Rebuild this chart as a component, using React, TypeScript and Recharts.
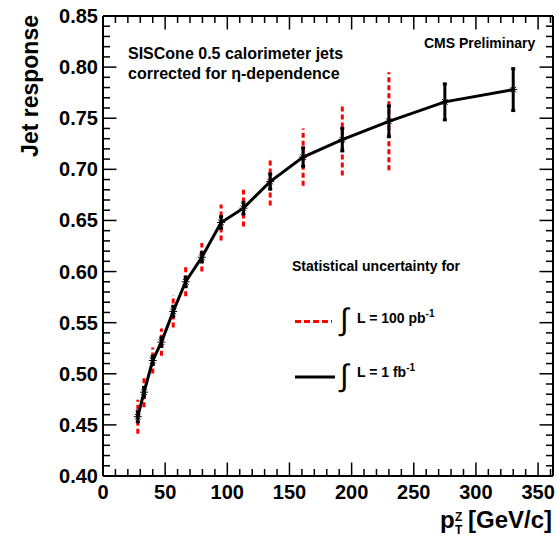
import React from 'react';
import { ComposedChart, Line, XAxis, YAxis, ErrorBar } from 'recharts';

// pT^Z bin centres [GeV/c]
const ptZ = [28, 33, 40, 47, 56.5, 66.5, 79.5, 95, 113, 134.5, 161, 192.5, 230, 275, 330];
// jet response
const response = [0.458, 0.482, 0.513, 0.531, 0.561, 0.59, 0.614, 0.648, 0.662, 0.688, 0.712, 0.729, 0.747, 0.766, 0.778];
// statistical uncertainty for 1 fb^-1
const err1fb = [0.005, 0.0047, 0.004, 0.0042, 0.005, 0.0045, 0.0045, 0.0056, 0.0057, 0.0074, 0.009, 0.011, 0.015, 0.0176, 0.0205];
// statistical uncertainty for 100 pb^-1 (shown for first 13 bins)
const err100pb = [0.0166, 0.0147, 0.0127, 0.0134, 0.0157, 0.0142, 0.014, 0.0176, 0.018, 0.0235, 0.028, 0.035, 0.048];

const xTicks = [0, 10, 20, 30, 40, 50, 60, 70, 80, 90, 100, 110, 120, 130, 140, 150, 160, 170, 180, 190, 200, 210, 220, 230, 240, 250, 260, 270, 280, 290, 300, 310, 320, 330, 340, 350, 360];
const xMajorTicks = [0, 50, 100, 150, 200, 250, 300, 350];
const yMajorTicks = [0.4, 0.45, 0.5, 0.55, 0.6, 0.65, 0.7, 0.75, 0.8, 0.85];

const yTicks: number[] = [];
yMajorTicks.forEach((m, i) => {
  yTicks.push(m);
  if (i < yMajorTicks.length - 1) {
    for (let k = 1; k < 5; k++) yTicks.push(Number((m + k * 0.01).toFixed(2)));
  }
});

const blackData = ptZ.map((x, i) => ({ x, y: response[i], errBlack: err1fb[i] }));
const redData = err100pb.map((e, i) => ({ x: ptZ[i], y: response[i], errRed: e }));

const FONT = "'Liberation Sans', Arial, Helvetica, sans-serif";
const MAJ = 13.5;
const MIN = 7;
const isMajorX = (v: number) => xMajorTicks.includes(v);
const isMajorY = (v: number) => yMajorTicks.some((m) => Math.abs(m - v) < 1e-6);

const BottomTick = (p: any) => {
  const { x, y, payload } = p;
  const v = payload.value;
  const major = isMajorX(v);
  return (
    <g>
      <line x1={x} x2={x} y1={y} y2={y - (major ? MAJ : MIN)} stroke="#000" strokeWidth={1.5} />
      {major && (
        <text x={x} y={y + 23} textAnchor="middle" fontSize={20} fontWeight="bold" fontFamily={FONT} fill="#000">
          {v}
        </text>
      )}
    </g>
  );
};
const TopTick = (p: any) => {
  const { x, y, payload } = p;
  const major = isMajorX(payload.value);
  return <line x1={x} x2={x} y1={y} y2={y + (major ? MAJ : MIN)} stroke="#000" strokeWidth={1.5} />;
};
const LeftTick = (p: any) => {
  const { x, y, payload } = p;
  const v = payload.value;
  const major = isMajorY(v);
  return (
    <g>
      <line x1={x} x2={x + (major ? MAJ : MIN)} y1={y} y2={y} stroke="#000" strokeWidth={1.5} />
      {major && (
        <text x={x - 5} y={y + 7} textAnchor="end" fontSize={20} fontWeight="bold" fontFamily={FONT} fill="#000">
          {v.toFixed(2)}
        </text>
      )}
    </g>
  );
};
const RightTick = (p: any) => {
  const { x, y, payload } = p;
  const major = isMajorY(payload.value);
  return <line x1={x} x2={x - (major ? MAJ : MIN)} y1={y} y2={y} stroke="#000" strokeWidth={1.5} />;
};

const Asterisk = (p: any) => {
  const { cx, cy, index } = p;
  if (cx == null || cy == null) return <g key={index} />;
  const r = 4;
  const d = r * 0.7071;
  return (
    <g key={index} stroke="#000" strokeWidth={1}>
      <line x1={cx - r} x2={cx + r} y1={cy} y2={cy} />
      <line x1={cx} x2={cx} y1={cy - r} y2={cy + r} />
      <line x1={cx - d} x2={cx + d} y1={cy - d} y2={cy + d} />
      <line x1={cx - d} x2={cx + d} y1={cy + d} y2={cy - d} />
    </g>
  );
};

const axisLine = { stroke: '#000', strokeWidth: 2 };

export default function App() {
  return (
    <div style={{ position: 'absolute', left: 0, top: 0, width: 558, height: 536, background: '#fff' }}>
      <ComposedChart width={558} height={536} margin={{ top: 15, right: 4, bottom: 59, left: 102 }}>
        <XAxis xAxisId="b" dataKey="x" type="number" domain={[0, 362]} allowDataOverflow ticks={xTicks} interval={0}
          orientation="bottom" height={1} tickSize={0} tickMargin={0} axisLine={axisLine} tickLine={false} tick={BottomTick} />
        <XAxis xAxisId="t" dataKey="x" type="number" domain={[0, 362]} allowDataOverflow ticks={xTicks} interval={0}
          orientation="top" height={1} tickSize={0} tickMargin={0} axisLine={axisLine} tickLine={false} tick={TopTick} />
        <YAxis yAxisId="l" type="number" domain={[0.4, 0.85]} allowDataOverflow ticks={yTicks} interval={0}
          orientation="left" width={1} tickSize={0} tickMargin={0} axisLine={axisLine} tickLine={false} tick={LeftTick} />
        <YAxis yAxisId="r" type="number" domain={[0.4, 0.85]} allowDataOverflow ticks={yTicks} interval={0}
          orientation="right" width={1} tickSize={0} tickMargin={0} axisLine={axisLine} tickLine={false} tick={RightTick} />
        <Line xAxisId="b" yAxisId="l" data={redData} dataKey="y" stroke="none" dot={false} activeDot={false} isAnimationActive={false}>
          <ErrorBar dataKey="errRed" direction="y" stroke="#ff0000" strokeWidth={3} strokeDasharray="5 3" width={0} />
        </Line>
        <Line xAxisId="b" yAxisId="l" data={blackData} dataKey="y" stroke="#000" strokeWidth={3} type="linear"
          dot={Asterisk} activeDot={false} isAnimationActive={false}>
          <ErrorBar dataKey="errBlack" direction="y" stroke="#000" strokeWidth={3} width={2} />
        </Line>
      </ComposedChart>
      <svg width={558} height={536} style={{ position: 'absolute', left: 0, top: 0, pointerEvents: 'none' }} fontFamily={FONT}>
        <text x={128} y={59} fontSize={16} fontWeight="bold">SISCone 0.5 calorimeter jets</text>
        <text x={128} y={79} fontSize={16} fontWeight="bold">corrected for η-dependence</text>
        <text x={424} y={48} fontSize={14} fontWeight="bold">CMS Preliminary</text>
        <text x={292} y={271} fontSize={14} fontWeight="bold">Statistical uncertainty for</text>
        <line x1={295} x2={332} y1={321.5} y2={321.5} stroke="#ff0000" strokeWidth={3} strokeDasharray="6 3" />
        <text x={340} y={330} fontSize={31}>∫</text>
        <text x={357} y={323} fontSize={14} fontWeight="bold">L = 100 pb<tspan fontSize={10} dy={-6}>-1</tspan></text>
        <line x1={295} x2={335} y1={377} y2={377} stroke="#000" strokeWidth={3} />
        <text x={340} y={386} fontSize={31}>∫</text>
        <text x={357} y={377} fontSize={14} fontWeight="bold">L = 1 fb<tspan fontSize={10} dy={-6}>-1</tspan></text>
        <text transform="translate(38,15) rotate(-90)" textAnchor="end" fontSize={23} fontWeight="bold">Jet response</text>
        <text x={440} y={528} fontSize={24} fontWeight="bold">p</text>
        <text x={455} y={521} fontSize={12} fontWeight="bold">Z</text>
        <text x={455} y={534} fontSize={12} fontWeight="bold">T</text>
        <text x={468} y={528} fontSize={24} fontWeight="bold">[GeV/c]</text>
      </svg>
    </div>
  );
}
